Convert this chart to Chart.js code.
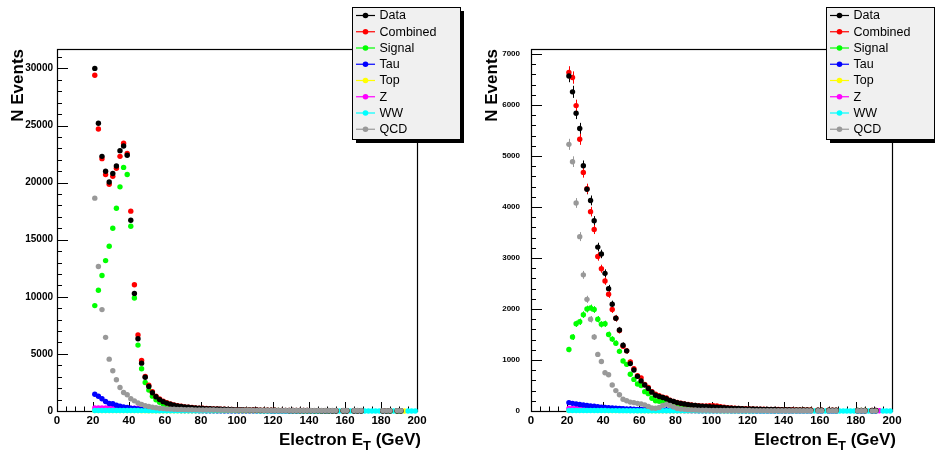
<!DOCTYPE html>
<html>
<head>
<meta charset="utf-8">
<script src="https://cdn.jsdelivr.net/npm/chart.js@4.4.0/dist/chart.umd.min.js"></script>
<style>
  body { margin: 0; background: #fff; }
  #wrap { position: relative; width: 935px; height: 455px; overflow: hidden; }
  canvas { position: absolute; top: 0; }
</style>
</head>
<body>
<div id="wrap">
  <canvas id="leftPlot" width="467" height="455" style="left:0"></canvas>
  <canvas id="rightPlot" width="468" height="455" style="left:467px"></canvas>
</div>
<script>
// bin centres (2 GeV bins from 20 to 200)
var binCenters = [
  21, 23, 25, 27, 29, 31, 33, 35, 37, 39,
  41, 43, 45, 47, 49, 51, 53, 55, 57, 59,
  61, 63, 65, 67, 69, 71, 73, 75, 77, 79,
  81, 83, 85, 87, 89, 91, 93, 95, 97, 99,
  101, 103, 105, 107, 109, 111, 113, 115, 117, 119,
  121, 123, 125, 127, 129, 131, 133, 135, 137, 139,
  141, 143, 145, 147, 149, 151, 153, 155, 157, 159,
  161, 163, 165, 167, 169, 171, 173, 175, 177, 179,
  181, 183, 185, 187, 189, 191, 193, 195, 197, 199
];

var seriesNames = ["Data", "Combined", "Signal", "Tau", "Top", "Z", "WW", "QCD"];

// tick labels
var xTicks = [0, 20, 40, 60, 80, 100, 120, 140, 160, 180, 200];
var leftYTicks = [0, 5000, 10000, 15000, 20000, 25000, 30000];
var rightYTicks = [0, 1000, 2000, 3000, 4000, 5000, 6000, 7000];

// ---- left panel ----
var leftData = [
  30000, 25200, 22300, 21000, 20050, 20800, 21450, 22800, 23200, 22400,
  16700, 10300, 6330, 4190, 2950, 2150, 1600, 1250, 1000, 820,
  690, 590, 510, 450, 400, 360, 325, 295, 270, 250,
  230, 212, 196, 182, 170, 158, 148, 138, 130, 122,
  114, 107, 100, 94, 88, 83, 78, 73, 69, 65,
  61, 58, 55, 52, 49, 46, 44, 42, 40, 38,
  36, 34, 33, 31, 30, 29, 28, 27, null, 25,
  24, null, 22, 21, 20, null, null, null, null, null,
  15, 14, 13, null, 12, 11, null, null, null, null
];
var leftCombined = [
  29400, 24700, 22100, 20700, 19850, 20550, 21250, 22300, 23450, 22550,
  17500, 11050, 6650, 4430, 3030, 2260, 1680, 1300, 1050, 860,
  720, 610, 530, 460, 410, 365, 330, 300, 275, 255,
  235, 216, 200, 186, 173, 161, 150, 140, 131, 123,
  116, 108, 101, 95, 89, 84, 79, 74, 70, 66,
  62, 59, 56, 53, 50, 47, 45, 43, 41, 39,
  37, 35, 34, 32, 31, 30, 29, 28, null, 26,
  25, null, 23, 22, 21, null, null, null, null, null,
  16, 15, 14, null, 13, 12, null, null, null, null
];
var leftSignal = [
  9230, 10570, 11860, 13170, 14430, 16000, 17760, 19630, 21330, 20710,
  16180, 9890, 5770, 3700, 2500, 1830, 1300, 980, 760, 610,
  500, 420, 360, 310, 270, 240, 215, 195, 178, 163,
  150, 138, 128, 118, 110, 102, 95, 89, 83, 78,
  73, 68, 64, 60, 56, 53, 50, 47, 44, 42,
  40, 38, 36, 34, 32, 31, 29, 28, 27, 26,
  25, 24, 23, 22, 21, 20, 19, 18, null, 17,
  16, null, 15, 14, 14, null, null, null, null, null,
  11, 11, 10, null, 9, 9, null, null, null, null
];
var leftTau = [
  1470, 1290, 1070, 830, 660, 640, 500, 420, 350, 300,
  255, 220, 190, 165, 145, 128, 112, 100, 90, 80,
  72, 65, 59, 54, 49, 45, 41, 38, 35, 32,
  30, 28, 26, 24, 22, 21, 20, 19, 18, 17,
  16, 15, 14, 13, 13, 12, 12, 11, 11, 10,
  10, 9, 9, 9, 8, 8, 8, 7, 7, 7,
  7, 6, 6, 6, 6, 5, 5, 5, null, 5,
  5, null, 4, 4, 4, null, null, null, null, null,
  4, 3, 3, null, 3, 3, null, null, null, null
];
var leftTop = [
  40, 42, 44, 45, 46, 46, 45, 44, 42, 40,
  38, 36, 34, 32, 30, 28, 26, 25, 24, 23,
  22, 21, 20, 19, 18, 18, 17, 16, 16, 15,
  15, 14, 14, 13, 13, 12, 12, 12, 11, 11,
  10, 10, 10, 9, 9, 9, 8, 8, 8, 8,
  7, 7, 7, 7, 6, 6, 6, 6, 6, 5,
  5, 5, 5, 5, 5, 4, 4, 4, null, 4,
  4, null, 4, 3, 3, null, null, null, null, null,
  3, 3, 3, null, 2, 2, 6, null, null, null
];
var leftZ = [
  260, 265, 270, 270, 275, 275, 270, 270, 265, 260,
  255, 245, 235, 220, 200, 180, 160, 145, 130, 115,
  100, 92, 85, 78, 72, 66, 60, 55, 50, 46,
  42, 39, 36, 33, 31, 29, 27, 25, 23, 22,
  21, 20, 19, 18, 17, 16, 15, 14, 14, 13,
  12, 12, 11, 11, 10, 10, 9, 9, 9, 8,
  8, 8, 7, 7, 7, 6, 6, 6, null, 6,
  5, null, 5, 5, 5, null, null, null, null, null,
  4, 4, 4, null, 3, 3, null, null, null, null
];
var leftWW = [
  40, 42, 43, 44, 44, 45, 45, 44, 43, 42,
  41, 40, 38, 36, 34, 32, 30, 28, 27, 26,
  25, 24, 23, 22, 21, 20, 19, 18, 18, 17,
  17, 16, 16, 15, 15, 14, 14, 13, 13, 12,
  12, 12, 11, 11, 11, 10, 10, 10, 9, 9,
  9, 9, 8, 8, 8, 8, 7, 7, 7, 7,
  7, 6, 6, 6, 6, 6, 5, 5, 5, 5,
  5, 5, 5, 5, 4, 4, 4, 4, 4, 4,
  4, 4, 3, 3, 3, 3, null, 3, 3, 3
];
var leftQCD = [
  18640, 12650, 8880, 6450, 4540, 3520, 2740, 2060, 1620, 1420,
  1070, 890, 700, 580, 470, 390, 330, 280, 240, 210,
  185, 165, 150, 138, 128, 120, 113, 107, 102, 97,
  93, 89, 85, 82, 79, 76, 73, 71, 69, 67,
  65, 63, 61, 60, 58, 57, 55, 54, 53, 52,
  51, 50, 49, 48, 47, 46, 46, 45, 44, 44,
  43, 43, 42, 42, 41, 41, 40, 40, null, 39,
  39, null, 38, 38, 38, null, null, null, null, null,
  36, 36, 36, null, 35, 35, null, null, null, null
];

// ---- right panel ----
var rightData = [
  6570, 6260, 5840, 5540, 4810, 4350, 4130, 3730, 3215, 3080,
  2700, 2400, 2095, 1820, 1590, 1290, 1180, 930, 805, 680,
  590, 510, 440, 370, 310, 285, 265, 240, 205, 185,
  165, 150, 138, 126, 116, 108, 100, 94, 88, 84,
  80, 76, 72, 66, 60, 56, 52, 48, 45, 42,
  40, 38, 36, 34, 32, 30, 29, 28, 27, 26,
  25, 24, 23, 22, 21, 20, 19, 18, null, 16,
  16, null, 15, 14, 14, null, null, null, null, null,
  11, 10, 10, null, 9, 9, null, null, null, null
];
var rightCombined = [
  6640, 6540, 5990, 5330, 4680, 4360, 3910, 3560, 3030, 2790,
  2550, 2290, 1990, 1820, 1580, 1270, 1180, 960, 830, 690,
  650, 520, 460, 380, 330, 300, 270, 255, 210, 185,
  168, 152, 140, 128, 118, 110, 104, 100, 98, 102,
  104, 98, 86, 74, 64, 58, 53, 49, 46, 43,
  41, 39, 37, 35, 33, 31, 30, 29, 28, 27,
  26, 25, 24, 23, 22, 21, 20, 19, null, 17,
  16, null, 15, 15, 14, null, null, null, null, null,
  12, 11, 11, null, 10, 10, null, null, null, null
];
var rightSignal = [
  1205, 1450, 1710, 1750, 1890, 2000, 2020, 1990, 1800, 1700,
  1710, 1500, 1410, 1330, 1170, 980, 915, 720, 620, 530,
  500, 380, 340, 250, 200, 190, 180, 170, 150, 130,
  115, 102, 92, 84, 77, 71, 66, 62, 58, 55,
  52, 49, 46, 43, 41, 39, 37, 35, 33, 31,
  30, 28, 27, 26, 25, 24, 23, 22, 21, 20,
  19, 18, 17, 17, 16, 15, 15, 14, null, 13,
  13, null, 12, 12, 11, null, null, null, null, null,
  9, 9, 9, null, 8, 8, null, null, null, null
];
var rightTau = [
  165, 150, 140, 128, 118, 108, 100, 92, 84, 76,
  70, 64, 58, 53, 49, 45, 41, 38, 35, 32,
  30, 28, 26, 24, 22, 21, 20, 19, 18, 17,
  16, 15, 14, 13, 12, 12, 11, 11, 10, 10,
  9, 9, 8, 8, 8, 7, 7, 7, 6, 6,
  6, 6, 5, 5, 5, 5, 4, 4, 4, 4,
  4, 4, 3, 3, 3, 3, 3, 3, null, 3,
  2, null, 2, 2, 2, null, null, null, null, null,
  2, 2, 2, null, 1, 1, null, null, null, null
];
var rightTop = [
  12, 13, 13, 14, 14, 14, 14, 13, 13, 12,
  12, 11, 11, 10, 10, 9, 9, 8, 8, 7,
  7, 7, 6, 6, 6, 5, 5, 5, 5, 4,
  4, 4, 4, 4, 3, 3, 3, 3, 3, 3,
  3, 3, 2, 2, 2, 2, 2, 2, 2, 2,
  2, 2, 2, 1, 1, 1, 1, 1, 1, 1,
  1, 1, 1, 1, 1, 1, 1, 1, null, 1,
  1, null, 1, 1, 1, null, null, null, null, null,
  1, 1, 1, null, 1, 1, null, null, null, null
];
var rightZ = [
  48, 50, 52, 54, 55, 56, 56, 55, 54, 52,
  50, 48, 45, 42, 38, 34, 30, 27, 24, 21,
  19, 17, 15, 14, 13, 12, 11, 10, 9, 9,
  8, 8, 7, 7, 6, 6, 6, 5, 5, 5,
  5, 4, 4, 4, 4, 3, 3, 3, 3, 3,
  3, 3, 2, 2, 2, 2, 2, 2, 2, 2,
  2, 2, 2, 2, 1, 1, 1, 1, null, 1,
  1, null, 1, 1, 1, null, null, null, null, null,
  1, 1, 1, null, 1, 1, 4, null, null, null
];
var rightWW = [
  9, 9, 10, 10, 10, 10, 10, 10, 9, 9,
  9, 8, 8, 8, 7, 7, 7, 6, 6, 6,
  5, 5, 5, 5, 4, 4, 4, 4, 4, 3,
  3, 3, 3, 3, 3, 3, 2, 2, 2, 2,
  2, 2, 2, 2, 2, 2, 2, 2, 1, 1,
  1, 1, 1, 1, 1, 1, 1, 1, 1, 1,
  1, 1, 1, 1, 1, 1, 1, 1, 1, 1,
  1, 1, 1, 1, 1, 1, 1, 1, 1, 1,
  1, 1, 1, 1, 1, 1, null, 1, 1, 1
];
var rightQCD = [
  5230, 4890, 4080, 3420, 2670, 2190, 1800, 1450, 1110, 970,
  750, 710, 510, 400, 320, 230, 200, 175, 165, 150,
  140, 120, 90, 60, 55, 70, 110, 130, 110, 80,
  50, 40, 32, 26, 22, 19, 17, 15, 14, 13,
  12, 12, 11, 11, 10, 10, 10, 9, 9, 9,
  9, 8, 8, 8, 8, 7, 7, 7, 7, 6,
  6, 6, 6, 6, 5, 5, 5, 5, null, 5,
  5, null, 4, 4, 4, null, null, null, null, null,
  4, 4, 4, null, 3, 3, null, null, null, null
];

var seriesColors = ["#000000", "#ff0000", "#00ff00", "#0000ff", "#ffff00", "#ff00ff", "#00ffff", "#999999"];
var drawOrder = [1, 2, 3, 5, 7, 6, 4, 0];   // lower = drawn on top
var fontFamily = "'Liberation Sans', Arial, Helvetica, sans-serif";

function makePoints(values)
{
    return binCenters.map(function (x, i) {
        return { x: x, y: values[i] };
    });
}

function fixedTicks(values)
{
    return function (scale) {
        scale.ticks = values.map(function (v) { return { value: v }; });
    };
}

// frame, inside ticks and error bars, drawn under the markers like ROOT does
var rootFrame = {
    id: 'rootFrame',
    beforeDatasetsDraw: function (chart, args, opts) {
        var ctx = chart.ctx, a = chart.chartArea;
        var xs = chart.scales.x, ys = chart.scales.y;
        var v, p;
        ctx.save();
        ctx.strokeStyle = '#000';
        ctx.lineWidth = 1;
        ctx.beginPath();
        for (v = 0; v <= 200; v += 5) {
            p = Math.round(xs.getPixelForValue(v)) + 0.5;
            ctx.moveTo(p, a.bottom);
            ctx.lineTo(p, a.bottom - (v % 20 === 0 ? 9 : 4.5));
        }
        for (v = 0; v <= ys.max; v += opts.yMinor) {
            p = Math.round(ys.getPixelForValue(v)) + 0.5;
            ctx.moveTo(a.left, p);
            ctx.lineTo(a.left + (v % opts.yStep === 0 ? 11 : 5), p);
        }
        ctx.stroke();
        ctx.lineWidth = 1.2;
        ctx.strokeRect(a.left + 0.5, a.top + 0.5, a.right - a.left, a.bottom - a.top);

        // error bars
        ctx.lineWidth = 1;
        chart.data.datasets.forEach(function (ds) {
            ctx.strokeStyle = ds.backgroundColor;
            ctx.beginPath();
            ds.data.forEach(function (pt) {
                if (pt.y === null) return;
                var e = opts.errScale * Math.sqrt(pt.y);
                var px = Math.round(xs.getPixelForValue(pt.x)) + 0.5;
                ctx.moveTo(px, ys.getPixelForValue(pt.y - e));
                ctx.lineTo(px, ys.getPixelForValue(pt.y + e));
            });
            ctx.stroke();
        });
        ctx.restore();
    },
    afterDraw: function (chart, args, opts) {
        var ctx = chart.ctx, a = chart.chartArea;
        ctx.save();

        // x axis title with subscript
        var big = 'bold 17px ' + fontFamily, small = 'bold 13px ' + fontFamily;
        var part1 = 'Electron E', part2 = 'T', part3 = ' (GeV)';
        ctx.font = big;
        var w1 = ctx.measureText(part1).width, w3 = ctx.measureText(part3).width;
        ctx.font = small;
        var w2 = ctx.measureText(part2).width;
        var xEnd = a.right + 4, base = 445;
        var x0 = xEnd - w1 - w2 - w3;
        ctx.fillStyle = '#000';
        ctx.textBaseline = 'alphabetic';
        ctx.textAlign = 'left';
        ctx.font = big;
        ctx.fillText(part1, x0, base);
        ctx.font = small;
        ctx.fillText(part2, x0 + w1, base + 5);
        ctx.font = big;
        ctx.fillText(part3, x0 + w1 + w2, base);

        // legend box
        var lx = opts.legendX, ly = 7, lw = 108, lh = 132;
        ctx.fillStyle = '#000';
        ctx.fillRect(lx + 4, ly + 4, lw, lh);
        ctx.fillStyle = '#f0f0f0';
        ctx.fillRect(lx, ly, lw, lh);
        ctx.strokeStyle = '#000';
        ctx.lineWidth = 1;
        ctx.strokeRect(lx + 0.5, ly + 0.5, lw, lh);
        ctx.font = '12.5px ' + fontFamily;
        ctx.textBaseline = 'middle';
        seriesNames.forEach(function (name, k) {
            var ry = ly + 8.5 + k * 16.25;
            ctx.strokeStyle = seriesColors[k];
            ctx.lineWidth = 1.2;
            ctx.beginPath();
            ctx.moveTo(lx + 4, ry);
            ctx.lineTo(lx + 23, ry);
            ctx.stroke();
            ctx.fillStyle = seriesColors[k];
            ctx.beginPath();
            ctx.arc(lx + 13.5, ry, 2.8, 0, Math.PI * 2);
            ctx.fill();
            ctx.fillStyle = '#000';
            ctx.fillText(name, lx + 27.5, ry + 0.5);
        });
        ctx.restore();
    }
};

function EtPanel(canvasId, series, yTicks, look)
{
    this.canvasId = canvasId;
    this.series = series;
    this.yTicks = yTicks;
    this.look = look;
    this.chart = undefined;
}

EtPanel.prototype.render = function ()
{
    var look = this.look;
    var datasets = this.series.map(function (values, k) {
        return {
            label: seriesNames[k],
            data: makePoints(values),
            backgroundColor: seriesColors[k],
            borderColor: seriesColors[k],
            pointRadius: 2.7,
            pointBorderWidth: 0,
            showLine: false,
            order: drawOrder[k],
            clip: false
        };
    });

    this.chart = new Chart(document.getElementById(this.canvasId), {
        type: 'scatter',
        data: { datasets: datasets },
        options: {
            responsive: false,
            animation: false,
            devicePixelRatio: 1,
            events: [],
            layout: { padding: { top: 49, right: look.padRight, left: 0, bottom: 0 }, autoPadding: false },
            plugins: {
                legend: { display: false },
                tooltip: { enabled: false },
                rootFrame: { yStep: look.yStep, yMinor: look.yMinor, errScale: look.errScale, legendX: look.legendX }
            },
            scales: {
                x: {
                    type: 'linear', min: 0, max: 200,
                    grid: { display: false, drawTicks: false },
                    border: { display: false },
                    afterBuildTicks: fixedTicks(xTicks),
                    ticks: {
                        autoSkip: false, maxRotation: 0, padding: 3,
                        color: '#000', font: { family: fontFamily, size: 11.5, weight: 'bold' },
                        callback: function (v) { return String(v); }
                    },
                    afterFit: function (s) { s.height = 44; }
                },
                y: {
                    type: 'linear', min: 0, max: look.yMax,
                    grid: { display: false, drawTicks: false },
                    border: { display: false },
                    afterBuildTicks: fixedTicks(this.yTicks),
                    ticks: {
                        autoSkip: false, padding: look.yPad,
                        color: '#000', font: { family: fontFamily, size: look.yFont, weight: 'bold' },
                        callback: function (v) { return String(v); }
                    },
                    title: {
                        display: true, text: 'N Events', align: 'end', color: '#000',
                        font: { family: fontFamily, size: 17, weight: 'bold' },
                        padding: look.titlePad
                    },
                    afterFit: function (s) { s.width = look.axisWidth; }
                }
            }
        },
        plugins: [rootFrame]
    });
};

var leftPanel = new EtPanel('leftPlot',
    [leftData, leftCombined, leftSignal, leftTau, leftTop, leftZ, leftWW, leftQCD], leftYTicks,
    { yMax: 31700, yStep: 5000, yMinor: 1000, yFont: 10, yPad: 4, axisWidth: 57, titlePad: 8,
      padRight: 50, errScale: 1.0, legendX: 352 });
leftPanel.render();

var rightPanel = new EtPanel('rightPlot',
    [rightData, rightCombined, rightSignal, rightTau, rightTop, rightZ, rightWW, rightQCD], rightYTicks,
    { yMax: 7100, yStep: 1000, yMinor: 200, yFont: 8, yPad: 11, axisWidth: 64, titlePad: 15,
      padRight: 43, errScale: 1.5, legendX: 359 });
rightPanel.render();
</script>
</body>
</html>
